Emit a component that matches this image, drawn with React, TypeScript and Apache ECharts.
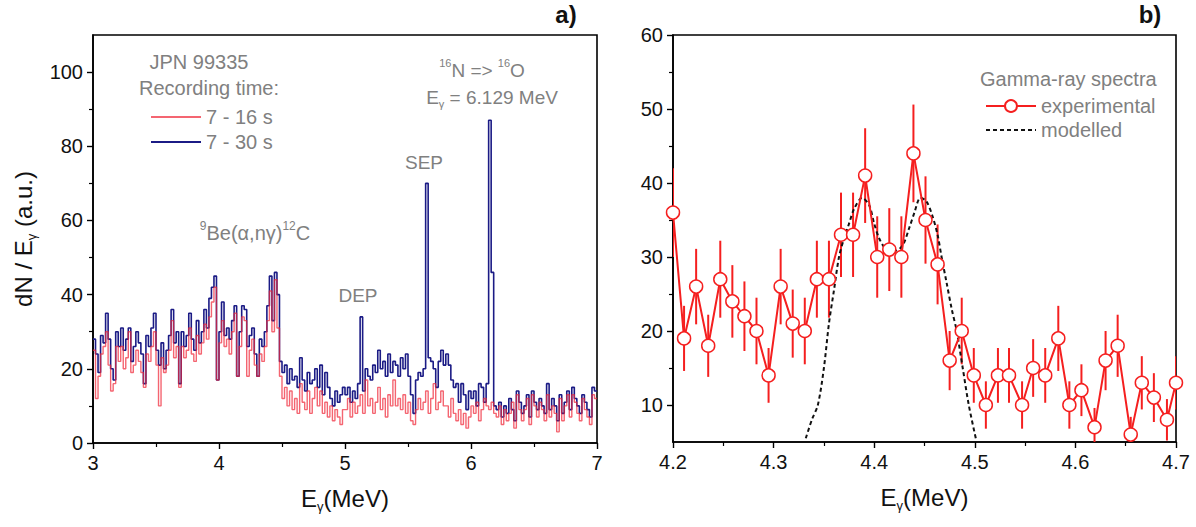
import React, { useEffect, useRef } from "react";
import * as echarts from "echarts";

// ---------- Panel a) : gamma spectra, histogram bins ----------
const BIN_START = 3.0;
const BIN_WIDTH = 0.02;
const AXIS_END = 7.0;

// 7 - 30 s recording (navy)
const spec7to30 = [
  28, 24, 19, 29, 27, 35, 28, 20, 17, 30,
  26, 31, 25, 28, 31, 22, 26, 30, 27, 24,
  16, 29, 26, 31, 35, 25, 21, 27, 20, 25,
  29, 36, 27, 30, 16, 30, 26, 29, 35, 28,
  25, 33, 27, 30, 36, 31, 39, 42, 45, 17,
  30, 38, 29, 31, 28, 33, 37, 18, 30, 37,
  36, 26, 29, 31, 24, 18, 28, 26, 30, 37,
  45, 33, 46, 40, 22, 19, 21, 16, 20, 17,
  18, 15, 23, 17, 14, 19, 16, 17, 20, 15,
  21, 13, 19, 15, 12, 10, 14, 11, 13, 15,
  13, 15, 11, 14, 12, 16, 34, 14, 20, 18,
  17, 21, 19, 25, 20, 22, 18, 24, 19, 22,
  21, 18, 23, 20, 24, 18, 13, 8, 17, 19,
  18, 20, 70, 23, 22, 20, 15, 22, 25, 21,
  24, 21, 17, 15, 16, 11, 16, 13, 9, 14,
  12, 14, 10, 16, 15, 11, 16, 87, 46, 10,
  9, 11, 7, 10, 8, 12, 9, 6, 14, 11,
  8, 10, 13, 7, 14, 11, 9, 12, 10, 8,
  16, 9, 12, 10, 6, 13, 8, 11, 14, 9,
  15, 12, 10, 8, 13, 11, 9, 7, 15, 14,
];

// 7 - 16 s recording (red)
const spec7to16 = [
  25, 12, 18, 24, 26, 30, 21, 14, 16, 26,
  22, 26, 20, 23, 30, 19, 21, 25, 22, 19,
  15, 24, 22, 26, 30, 21, 10, 23, 19, 21,
  25, 33, 23, 26, 15, 26, 23, 25, 31, 24,
  22, 29, 24, 27, 32, 28, 34, 38, 42, 17,
  27, 33, 26, 28, 24, 30, 35, 18, 26, 34,
  33, 18, 25, 28, 21, 18, 24, 22, 26, 33,
  41, 30, 44, 31, 18, 12, 15, 10, 14, 9,
  12, 8, 16, 11, 9, 14, 8, 12, 15, 10,
  14, 8, 11, 7, 10, 6, 9, 7, 5, 9,
  9, 12, 7, 11, 8, 10, 13, 8, 17, 10,
  12, 8, 11, 15, 9, 12, 7, 13, 10, 17,
  10, 12, 9, 13, 8, 11, 6, 5, 9, 12,
  9, 11, 14, 8, 12, 16, 9, 11, 14, 10,
  10, 7, 12, 8, 6, 9, 5, 8, 4, 7,
  10, 8, 11, 6, 9, 12, 10, 9, 11, 8,
  7, 10, 5, 9, 6, 8, 11, 4, 13, 9,
  6, 9, 12, 5, 13, 10, 7, 11, 9, 6,
  13, 7, 10, 8, 3, 12, 6, 10, 13, 7,
  13, 11, 8, 6, 12, 9, 7, 5, 13, 12,
];

// ---------- Panel b) : zoom 4.2 - 4.7 MeV ----------
const expE = [
  4.200, 4.211, 4.223, 4.235, 4.247, 4.259, 4.271, 4.283, 4.295, 4.307,
  4.319, 4.331, 4.343, 4.355, 4.367, 4.379, 4.391, 4.403, 4.415, 4.427,
  4.439, 4.451, 4.463, 4.475, 4.487, 4.499, 4.511, 4.523, 4.534, 4.547,
  4.558, 4.570, 4.583, 4.594, 4.606, 4.619, 4.630, 4.642, 4.655, 4.666,
  4.678, 4.691, 4.700,
];
const expCounts = [
  36, 19, 26, 18, 27, 24, 22, 20, 14, 26,
  21, 20, 27, 27, 33, 33, 41, 30, 31, 30,
  44, 35, 29, 16, 20, 14, 10, 14, 14, 10,
  15, 14, 19, 10, 12, 7, 16, 18, 6, 13,
  11, 8, 13,
];
const expErr = [
  6.0, 4.4, 5.1, 4.2, 5.2, 4.9, 4.7, 4.5, 3.7, 5.1,
  4.6, 4.5, 5.2, 5.2, 5.7, 5.7, 6.4, 5.5, 5.6, 5.5,
  6.6, 5.9, 5.4, 4.0, 4.5, 3.7, 3.2, 3.7, 3.7, 3.2,
  3.9, 3.7, 4.4, 3.2, 3.5, 2.6, 4.0, 4.2, 2.4, 3.6,
  3.3, 2.8, 3.6,
];
const modE = [
  4.332, 4.338, 4.344, 4.350, 4.355, 4.360, 4.365, 4.370, 4.375, 4.380,
  4.388, 4.395, 4.400, 4.405, 4.412, 4.420, 4.428, 4.435, 4.440, 4.446,
  4.452, 4.458, 4.463, 4.467, 4.472, 4.477, 4.482, 4.488, 4.494, 4.501,
];
const modCounts = [
  5.5, 8, 10, 15, 21, 25.5, 30, 32.5, 34.5, 36.5,
  38, 37, 34.5, 32.5, 31, 30.8, 31.5, 34, 36, 38,
  37.5, 35.5, 33, 30, 26.5, 23, 20, 15, 10, 5.5,
];

// ---------- Tick values ----------
const leftXTicks = [3, 4, 5, 6, 7];
const leftXMinor = [3.5, 4.5, 5.5, 6.5];
const leftYTicks = [0, 20, 40, 60, 80, 100];
const leftYMinor = [10, 30, 50, 70, 90];
const rightXTicks = [4.2, 4.3, 4.4, 4.5, 4.6, 4.7];
const rightXMinor = [4.25, 4.35, 4.45, 4.55, 4.65];
const rightYTicks = [10, 20, 30, 40, 50, 60];
const rightYMinor = [15, 25, 35, 45, 55];

const FONT = "'Liberation Sans', Arial, Helvetica, sans-serif";
const GREY = "#808080";
const RED_LIGHT = "#f02a3a";
const NAVY = "#1b1b85";
const RED = "#f51f1f";

function histData(values: number[]) {
  const d = values.map((v, i) => [+(BIN_START + i * BIN_WIDTH).toFixed(3), v]);
  d.push([AXIS_END, values[values.length - 1]]);
  return d;
}

function mainAxis(gridIndex: number, position: string, min: number, max: number, ticks: number[], extra: any = {}) {
  return {
    type: "value",
    gridIndex,
    position,
    min,
    max,
    axisLine: { show: true, onZero: false, lineStyle: { color: "#000", width: 1.6 } },
    axisTick: { show: true, inside: false, length: 6, customValues: ticks, lineStyle: { color: "#000", width: 1.4 } },
    axisLabel: {
      show: true,
      customValues: ticks,
      fontSize: 20,
      color: "#111",
      fontFamily: FONT,
      margin: 10,
    },
    splitLine: { show: false },
    ...extra,
  };
}

function minorAxis(gridIndex: number, position: string, min: number, max: number, ticks: number[]) {
  return {
    type: "value",
    gridIndex,
    position,
    offset: 0,
    min,
    max,
    axisLine: { show: false, onZero: false },
    axisTick: { show: true, inside: false, length: 4, customValues: ticks, lineStyle: { color: "#000", width: 1.2 } },
    axisLabel: { show: false },
    splitLine: { show: false },
  };
}

const subRich = {
  n: { fontSize: 24, fontFamily: FONT, color: "#111", lineHeight: 30, verticalAlign: "middle" },
  s: { fontSize: 13, fontFamily: FONT, color: "#111", lineHeight: 13, verticalAlign: "bottom" },
};

function annotRich(size: number) {
  return {
    n: { fontSize: size, fontFamily: FONT, fill: GREY, lineHeight: size + 6, verticalAlign: "middle" },
    sup: { fontSize: Math.round(size * 0.6), fontFamily: FONT, fill: GREY, lineHeight: 12, verticalAlign: "top" },
    sub: { fontSize: Math.round(size * 0.6), fontFamily: FONT, fill: GREY, lineHeight: 12, verticalAlign: "bottom" },
  };
}

function annot(x: number, y: number, text: string, size: number, align = "center") {
  return {
    type: "text",
    x,
    y,
    style: {
      text,
      rich: annotRich(size),
      fontSize: size,
      fontFamily: FONT,
      fill: GREY,
      align,
      verticalAlign: "middle",
    },
  };
}

export default function App() {
  const ref = useRef<HTMLDivElement>(null);

  useEffect(() => {
    if (!ref.current) return;
    const chart = echarts.init(ref.current, undefined, { renderer: "svg" });

    const option: any = {
      animation: false,
      backgroundColor: "#ffffff",
      textStyle: { fontFamily: FONT },
      grid: [
        { left: 93, right: 1196 - 597, top: 35, bottom: 527 - 443, show: true, borderColor: "#000", borderWidth: 1.6, backgroundColor: "transparent" },
        { left: 673, right: 1196 - 1176, top: 35, bottom: 527 - 442, show: true, borderColor: "#000", borderWidth: 1.6, backgroundColor: "transparent" },
      ],
      xAxis: [
        mainAxis(0, "bottom", 3, 7, leftXTicks, {
          name: "{n|E}{s|γ}{n|(MeV)}",
          nameLocation: "middle",
          nameGap: 40,
          nameTextStyle: { rich: subRich, fontSize: 24, color: "#111" },
        }),
        minorAxis(0, "bottom", 3, 7, leftXMinor),
        mainAxis(1, "bottom", 4.2, 4.7, rightXTicks, {
          name: "{n|E}{s|γ}{n|(MeV)}",
          nameLocation: "middle",
          nameGap: 40,
          nameTextStyle: { rich: subRich, fontSize: 24, color: "#111" },
        }),
        minorAxis(1, "bottom", 4.2, 4.7, rightXMinor),
      ],
      yAxis: [
        mainAxis(0, "left", 0, 110, leftYTicks, {
          name: "{n|dN / E}{s|γ}{n| (a.u.)}",
          nameLocation: "middle",
          nameGap: 55,
          nameRotate: 90,
          nameTextStyle: { rich: subRich, fontSize: 24, color: "#111" },
        }),
        minorAxis(0, "left", 0, 110, leftYMinor),
        mainAxis(1, "left", 5, 60, rightYTicks),
        minorAxis(1, "left", 5, 60, rightYMinor),
      ],
      legend: [
        {
          data: ["7 - 16 s", "7 - 30 s"],
          orient: "vertical",
          left: 145,
          top: 102,
          itemWidth: 50,
          itemHeight: 12,
          itemGap: 5,
          itemStyle: { opacity: 0 },
          textStyle: { fontSize: 20, color: GREY, fontFamily: FONT },
          selectedMode: false,
        },
        {
          data: ["experimental", { name: "modelled", itemStyle: { opacity: 0 } }],
          orient: "vertical",
          left: 980,
          top: 91,
          itemWidth: 50,
          itemHeight: 15,
          itemGap: 4,
          textStyle: { fontSize: 20, color: GREY, fontFamily: FONT },
          selectedMode: false,
        },
      ],
      series: [
        {
          name: "7 - 30 s",
          type: "line",
          xAxisIndex: 0,
          yAxisIndex: 0,
          step: "end",
          showSymbol: false,
          symbol: "none",
          lineStyle: { color: NAVY, width: 1.6 },
          itemStyle: { color: NAVY },
          data: histData(spec7to30),
          z: 2,
        },
        {
          name: "7 - 16 s",
          type: "line",
          xAxisIndex: 0,
          yAxisIndex: 0,
          step: "end",
          showSymbol: false,
          symbol: "none",
          lineStyle: { color: RED_LIGHT, width: 1.4, opacity: 0.72 },
          itemStyle: { color: RED_LIGHT },
          data: histData(spec7to16),
          z: 3,
        },
        {
          name: "errors",
          type: "custom",
          xAxisIndex: 2,
          yAxisIndex: 2,
          clip: true,
          z: 3,
          encode: { x: 0, y: 1 },
          data: expE.map((e, i) => [e, expCounts[i], expErr[i]]),
          renderItem: (params: any, api: any) => {
            const x = api.value(0);
            const y = api.value(1);
            const err = api.value(2);
            const top = api.coord([x, y + err]);
            const bot = api.coord([x, y - err]);
            return {
              type: "line",
              shape: { x1: top[0], y1: top[1], x2: bot[0], y2: bot[1] },
              style: { stroke: RED, lineWidth: 2 },
            };
          },
        },
        {
          name: "modelled",
          type: "line",
          xAxisIndex: 2,
          yAxisIndex: 2,
          smooth: 0.3,
          showSymbol: false,
          symbol: "none",
          lineStyle: { color: "#111", width: 2, type: [4, 3] },
          itemStyle: { color: "#111" },
          data: modE.map((e, i) => [e, modCounts[i]]),
          z: 4,
        },
        {
          name: "experimental",
          type: "line",
          xAxisIndex: 2,
          yAxisIndex: 2,
          symbol: "circle",
          symbolSize: 13,
          lineStyle: { color: RED, width: 2 },
          itemStyle: { color: "#ffffff", borderColor: RED, borderWidth: 1.5 },
          data: expE.map((e, i) => [e, expCounts[i]]),
          z: 5,
        },
      ],
      graphic: [
        {
          type: "text",
          x: 566,
          y: 14,
          style: { text: "a)", fontSize: 24, fontWeight: "bold", fontFamily: FONT, fill: "#111", align: "center", verticalAlign: "middle" },
        },
        {
          type: "text",
          x: 1150,
          y: 14,
          style: { text: "b)", fontSize: 24, fontWeight: "bold", fontFamily: FONT, fill: "#111", align: "center", verticalAlign: "middle" },
        },
        annot(199, 62, "{n|JPN 99335}", 20),
        annot(209, 88, "{n|Recording time:}", 20),
        annot(255, 233, "{sup|9}{n|Be(α,nγ)}{sup|12}{n|C}", 20),
        annot(358, 295, "{n|DEP}", 19),
        annot(424, 162, "{n|SEP}", 19),
        annot(482, 70, "{sup|16}{n|N => }{sup|16}{n|O}", 19),
        annot(492, 97, "{n|E}{sub|γ}{n| = 6.129 MeV}", 19),
        annot(980, 79, "{n|Gamma-ray spectra}", 20, "left"),
      ],
    };

    chart.setOption(option);
    return () => {
      chart.dispose();
    };
  }, []);

  return (
    <div
      ref={ref}
      style={{ position: "absolute", left: 0, top: 0, width: 1196, height: 527, background: "#fff" }}
    />
  );
}
